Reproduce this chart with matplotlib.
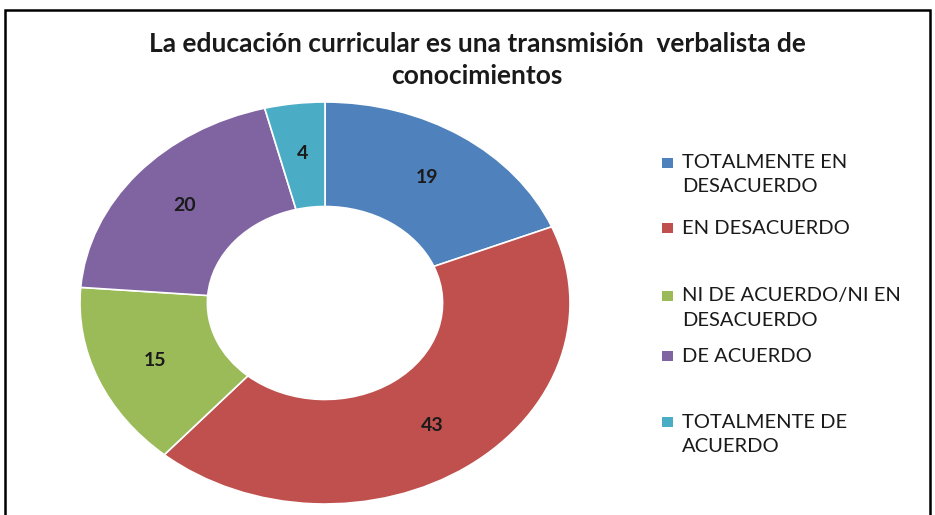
import matplotlib.pyplot as plt
from matplotlib.patches import Rectangle

# data
categories = ["TOTALMENTE EN\nDESACUERDO", "EN DESACUERDO",
              "NI DE ACUERDO/NI EN\nDESACUERDO", "DE ACUERDO",
              "TOTALMENTE DE\nACUERDO"]
values = [19, 43, 15, 20, 4]
colors = ["#4F81BD", "#C0504D", "#9BBB59", "#8064A2", "#4BACC6"]
title = "La educación curricular es una transmisión  verbalista de\nconocimientos"

plt.rcParams['font.family'] = ['Lato', 'DejaVu Sans']

W, H = 935, 515
fig = plt.figure(figsize=(W / 100, H / 100), dpi=100)
fig.patch.set_facecolor("white")

# pie area in pixels (centre 325,303 ; rx 245 ; ry 201)
cx, cy, rx, ry = 325, 303, 245, 201
ax = fig.add_axes([(cx - rx) / W, (H - cy - ry) / H, 2 * rx / W, 2 * ry / H])

total = sum(values)
wedges, texts, autotexts = ax.pie(
    values, colors=colors, startangle=90, counterclock=False,
    wedgeprops=dict(width=0.52, edgecolor="white", linewidth=1.2),
    autopct=lambda p: "{:.0f}".format(p * total / 100), pctdistance=0.75,
    textprops=dict(fontsize=14, fontweight="bold", color="#1a1a1a"))
ax.set_aspect("auto")
ax.set_xlim(-1.0, 1.0)
ax.set_ylim(-1.0, 1.0)

fig.text(477 / W, 1 - 60 / H, title, ha="center", va="center",
         fontsize=19, fontweight="bold", linespacing=1.4, color="#1a1a1a")

# legend, first line of each entry centred at these pixel rows
leg_rows = [163, 228, 296, 356, 422]
for lab, col, yr in zip(categories, colors, leg_rows):
    fig.patches.append(Rectangle((662 / W, 1 - (yr + 5) / H), 11 / W, 10 / H,
                                 transform=fig.transFigure, facecolor=col,
                                 edgecolor="none"))
    for i, line in enumerate(lab.split("\n")):
        fig.text(682 / W, 1 - (yr + i * 24) / H, line, ha="left", va="center",
                 fontsize=14.5, color="#1a1a1a")

# chart frame (bottom edge is cut off in the source)
fig.patches.append(Rectangle((5 / W, -0.05), 925 / W, 1 - 10 / H + 0.05,
                             transform=fig.transFigure, fill=False,
                             edgecolor="black", linewidth=1.8))

fig.savefig("out.png", dpi=100, facecolor="white")
